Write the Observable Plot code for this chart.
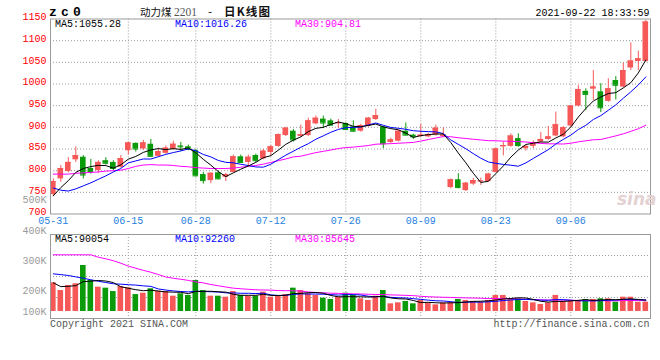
<!DOCTYPE html>
<html><head><meta charset="utf-8">
<script src="https://cdn.jsdelivr.net/npm/d3@7"></script>
<script src="https://cdn.jsdelivr.net/npm/@observablehq/plot@0.6"></script>
<style>
body{margin:0;background:#fff}
#chart{position:relative;width:660px;height:360px;overflow:hidden;background:#fff}
#chart svg{position:absolute;left:0;top:0;overflow:visible;max-width:none}
</style></head><body><div id="chart"></div><script>
// ---------- data ----------
const dates = ["05-31","06-01","06-02","06-03","06-04","06-07","06-08","06-09","06-10","06-11","06-15","06-16","06-17","06-18","06-21","06-22","06-23","06-24","06-25","06-28","06-29","06-30","07-01","07-02","07-05","07-06","07-07","07-08","07-09","07-12","07-13","07-14","07-15","07-16","07-19","07-20","07-21","07-22","07-23","07-26","07-27","07-28","07-29","07-30","08-02","08-03","08-04","08-05","08-06","08-09","08-10","08-11","08-12","08-13","08-16","08-17","08-18","08-19","08-20","08-23","08-24","08-25","08-26","08-27","08-30","08-31","09-01","09-02","09-03","09-06","09-07","09-08","09-09","09-10","09-13","09-14","09-15","09-16","09-17","09-22"];
const tickLabels = ["05-31","06-15","06-28","07-12","07-26","08-09","08-23","09-06"];
const open = [745,781,798,825,831,805,800,823,819,808, 846,863,850,861,833,840,849,857,855,846, 791,777,795,785,796,832,819,835,827,842, 856,881,891,879,881,908,919,915,908,909, 901,891,902,918,901,865,868,891,882,879, 878,882,879,761,779,754,769,775,775,796, 855,856,874,851,856,866,872,880,878,903, 949,983,988,982,960,1008,993,1037,1052,1052];
const high = [781,812,830,855,835,826,823,830,823,835, 866,864,870,872,852,857,868,865,859,849, 796,795,799,794,836,836,836,838,849,858, 885,900,895,905,921,926,926,919,918,910, 915,907,923,942,902,875,893,910,884,907, 886,905,899,781,793,773,782,783,794,852, 866,885,885,858,869,888,902,935,902,951, 996,989,1031,1001,1012,1017,1048,1095,1076,1147];
const low = [740,773,795,819,781,792,794,813,800,806, 836,843,847,833,831,838,847,844,846,786, 769,770,779,775,795,817,810,818,825,834, 854,879,866,877,879,906,897,903,897,893, 889,889,900,916,851,863,866,880,872,876, 876,880,877,758,758,752,766,766,773,795, 834,854,854,845,851,864,870,878,876,901, 947,939,962,934,958,963,991,1031,1031,1050];
const close = [775,805,819,835,790,798,819,817,805,828, 864,850,864,833,844,852,861,855,850,788, 777,794,781,791,832,819,831,823,845,855, 883,898,871,883,915,921,910,905,911,895, 891,904,921,927,862,871,891,882,878,882, 883,898,882,779,761,771,777,776,792,850, 858,880,858,856,865,872,878,906,899,949, 987,976,993,945,989,997,1031,1053,1058,1143];
const ma5 = [742,761,777,796, 805,809.4,812.2,811.8,805.8,813.4,826.6,832.8,842.2,847.8, 851,848.6,850.8,849,852.4,841.2,826.2,812.8,798,786.2, 795,803.4,810.8,819.2,830,834.6,847.4,860.8,870.4,878, 890,897.6,900,906.8,912.4,908.4,902.4,901.2,904.4,907.6, 901,897,894.4,886.6,876.8,880.8,883.2,884.6,884.6,864.8, 840.6,818.2,794,772.8,775.4,793.2,810.6,831.2,847.6,860.4, 863.4,866.2,865.8,875.4,884,900.8,923.8,943.4,960.8,970, 978,980,991,1003,1025.6,1055.3];
const ma10 = [760,755,753,758,765,772,780,788,797, 805,818,822.5,827,826.8,832.2,837.6,841.8,845.6,850.1, 846.1,837.4,831.8,823.5,819.3,818.1,814.8,811.8,808.6,808.1, 814.8,825.4,835.8,844.8,854,862.3,872.5,880.4,888.6,895.2, 899.2,900,900.6,905.6,910,904.7,899.7,897.8,895.5,892.2, 890.9,890.1,889.5,885.6,870.8,860.7,850.7,839.3,828.7,820.1, 816.9,814.4,812.6,810.2,817.9,828.3,838.4,848.5,861.5,872.2, 882.1,895,904.6,918.1,927,939.4,951.9,967.2,981.9,997.8,1016.3];
const ma30 = [792,792,792,794,795,796,797,799,800,801, 805,810,813,814,813,813,812,810,809,807, 806,805,805,805,806,808,810,812,815,819, 823,827, 831.8,833.4,837.5,841.6,844.7,847.6,851.1,853.4, 854.3,856.1,858.0,861.1,861.7,862.3,863.3,864.2,865.2,868.3, 871.8,875.3,878.7,878.3,875.9,874.3,872.5,870.9,869.2,869.0, 868.2,867.6,867.1,866.2,864.6,862.9,861.9,861.9,861.5,863.3, 866.5,868.9,871.3,871.9,876.1,880.3,885.0,890.7,896.7,904.8];
// volume in thousands (K)
const volume = [229,167,207,221,367,247,194,186,159,199, 189,135,146,181,162,159,122,141,128,247, 167,122,122,114,159,128,122,122,154,114, 122,135,186,167,141,128,106,96,114,146, 128,101,88,122,167,61,69,80,61,88, 66,53,69,69,96,88,80,74,88,128, 128,101,101,80,69,56,69,128,80,88, 80,96,96,101,101,74,114,114,74,74];
const volMa5 = [229,198,201,206, 238.2,241.8,247.2,243,230.6,197,185.4,173.6,165.6,170, 162.6,156.6,154,153,142.4,159.4,161,161,157.2,154.4, 136.8,129,129,129,137,128,126.8,129.4,142.2,144.8, 150.2,151.4,145.6,127.6,117,118,118,117,115.4,117, 121.2,107.8,101.4,99.8,87.6,71.8,72.8,69.6,67.4,69, 70.6,75,80.4,81.4,85.2,91.6,99.6,103.8,109.2,107.6, 95.8,81.4,75,80.4,80.4,84.2,89,94.4,88,92.2, 94.8,93.6,97.2,100.8,95.4,90.1];
const volMa10 = [300,294,287,276,265,253,241,231,221, 217.6,213.6,210.4,204.3,200.3,179.8,171,163.8,159.3,156.2, 161,158.8,157.5,155.1,148.4,148.1,145,145,143.1,145.7, 132.4,127.9,129.2,135.6,140.9,139.1,139.1,137.5,134.9,130.9, 134.1,134.7,131.3,121.5,117,119.6,112.9,109.2,107.6,102.3, 96.5,90.3,85.5,83.6,78.3,71.2,73.9,75,74.4,77.1, 81.1,87.3,92.1,95.3,96.4,93.7,90.5,89.4,94.8,94, 90,85.2,84.7,84.2,86.3,89.5,91.3,95.8,94.4,93.8, 92.3];
const volMa30 = [452,452,452,452,452,452,433,420,405,385, 362,345,328,313,295,275,265,257,248,236, 228,215,205,195,186,181,177,173,171, 170.3,166.8,165.7,165,163.2,155.7,151.7,148.8,145.8,144.3, 142.5,140.5,139.3,137.4,135.4,135.6,132.3,130.6,128.5,126.3, 121,117.6,115.3,113.6,112.1,110,108.6,107.2,105.6,103.4, 103.9,104.1,103,100.1,97.2,94.8,92.4,91.2,92.3,91.1, 89.2,87.6,87.4,87.7,87,84.8,85.2,86.7,87.9,88.3, 85.6];
const priceTicks = [700,750,800,850,900,950,1000,1050,1100,1150];
const volTicks = [100,200,300,400,500];
const legendMain = [["MA5:1055.28","#000000"],["MA10:1016.26","#0000ff"],["MA30:904.81","#ff00ff"]];
const legendVol = [["MA5:90054","#000000"],["MA10:92260","#0000ff"],["MA30:85645","#ff00ff"]];

// ---------- drawing ----------
const RED = "#f65858", GREEN = "#0a9a0a";
const I = d3.range(dates.length);
const col = i => close[i] >= open[i] ? RED : GREEN;
const cx = i => i + 0.375;
const tickPos = tickLabels.map(l => dates.indexOf(l) + 0.375);
const grid = {stroke:"#9c9c9c", strokeOpacity:1, strokeDasharray:"1,2"};
const mono = "'Liberation Mono','DejaVu Sans Mono',monospace";
const style = {fontFamily: mono, fontSize:"10px", background:"transparent", overflow:"visible"};
const chart = document.getElementById("chart");

const main = Plot.plot({
  width:660, height:232, marginLeft:50, marginRight:10, marginTop:18.5, marginBottom:18.5,
  style, color:{type:"identity"},
  x:{domain:[0, dates.length], axis:null},
  y:{domain:[700,1150], axis:null},
  marks:[
    Plot.gridY(priceTicks.slice(1,-1), grid),
    Plot.gridX(tickPos.filter(p => p > 1), grid),
    Plot.ruleX(I, {x:cx, y1:i=>low[i], y2:i=>high[i], stroke:col}),
    Plot.rect(I, {x1:i=>i, x2:i=>i+0.75, y1:i=>open[i], y2:i=>close[i], fill:col}),
    Plot.ruleY(I, {y:i=>close[i], x1:i=>i, x2:i=>i+0.75, stroke:col}),
    Plot.line(I, {x:cx, y:i=>ma30[i], stroke:"#ff00ff", strokeWidth:1}),
    Plot.line(I, {x:cx, y:i=>ma10[i], stroke:"#0000ff", strokeWidth:1}),
    Plot.line(I, {x:cx, y:i=>ma5[i], stroke:"#000000", strokeWidth:1}),
    Plot.frame({stroke:"#999"}),
    Plot.axisY(priceTicks, {tickSize:0, tickPadding:4, color:"#ff0000", dy:-2, label:null, tickFormat:d=>String(d), fontSize:10}),
    Plot.axisX(tickPos, {tickSize:0, tickPadding:3, color:"#1f7fe0", label:null, tickFormat:p=>dates[Math.round(p-0.375)], fontSize:10})
  ]
});

const vlo = -56, vhi = 614;
const vol = Plot.plot({
  width:660, height:360, marginLeft:50, marginRight:10, marginTop:234, marginBottom:42,
  style, color:{type:"identity"},
  x:{domain:[0, dates.length], axis:null},
  y:{domain:[vlo, vhi], axis:null},
  marks:[
    Plot.gridY([1,2,3].map(k => vlo + (vhi - vlo) * k / 4), grid),
    Plot.gridX(tickPos.filter(p => p > 1), grid),
    Plot.rect(I, {x1:i=>i, x2:i=>i+0.75, y1:0, y2:i=>volume[i], fill:col}),
    Plot.line(I, {x:cx, y:i=>volMa30[i], stroke:"#ff00ff", strokeWidth:1}),
    Plot.line(I, {x:cx, y:i=>volMa10[i], stroke:"#0000ff", strokeWidth:1}),
    Plot.line(I, {x:cx, y:i=>volMa5[i], stroke:"#000000", strokeWidth:1}),
    Plot.frame({stroke:"#999"})
  ]
});

const volAxis = Plot.plot({
  width:660, height:360, marginLeft:50, marginRight:10, marginTop:0, marginBottom:0,
  style,
  x:{domain:[0, dates.length], axis:null},
  y:{domain:[131, 500], range:[311.3, 199.5], clamp:true, axis:null},
  marks:[Plot.axisY(volTicks, {tickSize:0, tickPadding:4, color:"#9a9a9a", label:null, tickFormat:d=>d+"K", fontSize:10})]
});

chart.append(vol, main, volAxis);

// ---------- text overlay ----------
const ov = d3.select(chart).append("svg").attr("width",660).attr("height",360)
  .style("font-family", mono).style("font-size","10px");
const txt = (s, x, y, o = {}) => {
  const t = ov.append("text").attr("x", x).attr("y", y).text(s)
    .attr("fill", o.fill || "#000").attr("text-anchor", o.anchor || "start");
  if (o.size) t.style("font-size", o.size + "px");
  if (o.weight) t.style("font-weight", o.weight);
  if (o.family) t.style("font-family", o.family);
  if (o.ls) t.style("letter-spacing", o.ls + "px");
  if (o.italic) t.style("font-style", "italic");
  return t;
};
txt("zc0", 49, 15.5, {size:13, weight:"bold", ls:4.2});
const cjk = "'Noto Sans CJK SC',sans-serif";
txt("动力煤", 140, 15.5, {size:10.5, family:cjk, fill:"#111"});
txt("2201", 174, 15.5, {size:11.5, family:"'Liberation Serif',serif", fill:"#555"});
txt("-", 208, 15.5, {size:12, family:cjk, fill:"#111"});
txt("日K线图", 224, 15.5, {size:11.5, family:cjk, fill:"#111", weight:"bold", ls:1.2});
txt("2021-09-22 18:33:59", 649.5, 16, {anchor:"end"});
const legX = [55, 175, 295];
legendMain.forEach(([s,c],k) => txt(s, legX[k], 27.3, {fill:c}));
legendVol.forEach(([s,c],k) => txt(s, legX[k], 241.7, {fill:c}));
txt("Copyright 2021 SINA.COM", 50, 326.5, {fill:"#555"});
txt("http://finance.sina.com.cn", 649.5, 326.5, {fill:"#555", anchor:"end"});
txt("sina", 617, 205, {size:17, weight:"bold", italic:true, family:"'DejaVu Sans',sans-serif", fill:"#e4d2d2"});
</script></body></html>
